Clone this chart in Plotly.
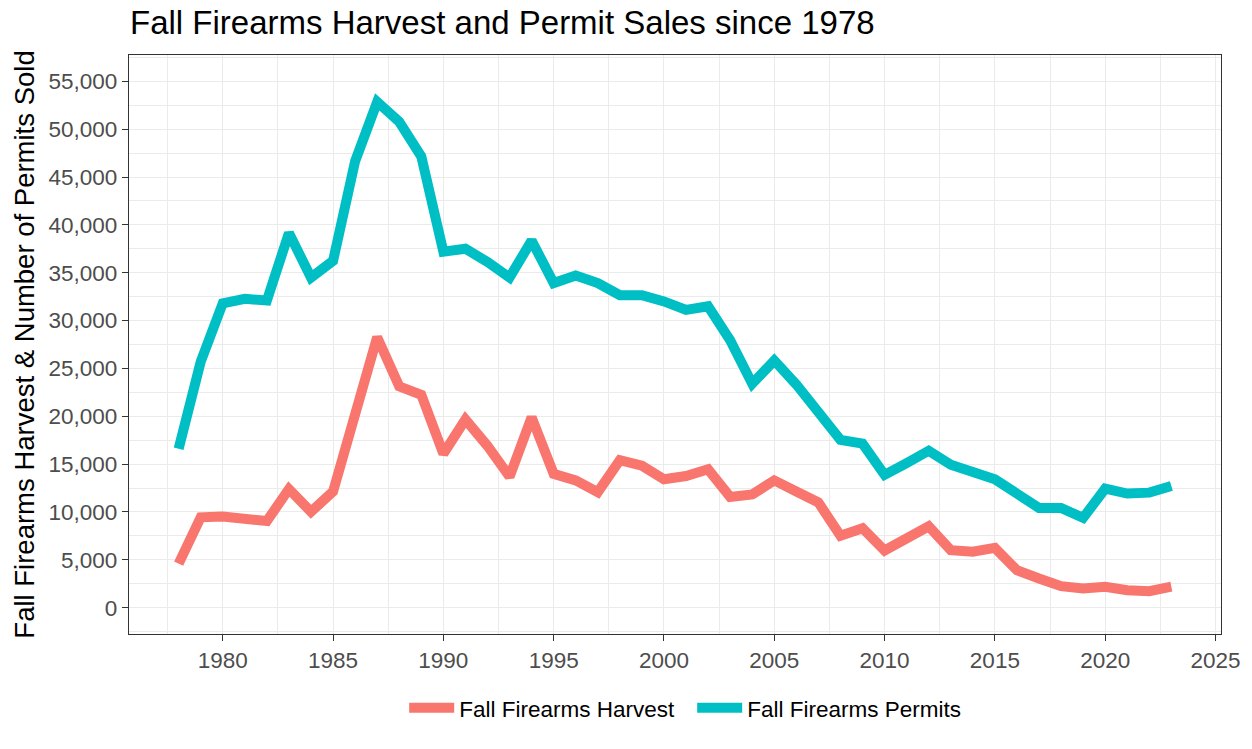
import plotly.graph_objects as go

years = list(range(1978, 2024))

harvest = [4600, 9440, 9520, 9370, 9050, 12400, 10020, 12140, 20700, 28260,
           23130, 22240, 16080, 19660, 16900, 13690, 19900, 13990, 13300, 12070,
           15420, 14840, 13420, 13760, 14460, 11570, 11830, 13300, 12140, 10990,
           7520, 8290, 5980, 7130, 8500, 6010, 5840, 6250, 3920, 3050,
           2250, 2010, 2190, 1830, 1730, 2190]

permits = [16600, 25700, 31800, 32270, 32100, 39150, 34500, 36240, 46650, 52850,
           50770, 47150, 37200, 37510, 36120, 34500, 38350, 33920, 34700, 33920,
           32650, 32650, 32000, 31110, 31500, 27950, 23400, 25830, 23320, 20430,
           17540, 17150, 13880, 15110, 16400, 14940, 14180, 13410, 11920, 10420,
           10420, 9380, 12440, 11920, 12020, 12720]

series_names = ["Fall Firearms Harvest", "Fall Firearms Permits"]
series_colors = ["#F8766D", "#00BFC4"]

x_ticks = [1980, 1985, 1990, 1995, 2000, 2005, 2010, 2015, 2020, 2025]
y_ticks = [0, 5000, 10000, 15000, 20000, 25000, 30000, 35000, 40000, 45000, 50000, 55000]
y_tick_labels = ["0", "5,000", "10,000", "15,000", "20,000", "25,000", "30,000",
                 "35,000", "40,000", "45,000", "50,000", "55,000"]

title_text = "Fall Firearms Harvest and Permit Sales since 1978"
y_title = "Fall Firearms Harvest & Number of Permits Sold"

FONT = "Liberation Sans, Arial, sans-serif"
W, H = 1252, 749

fig = go.Figure()
for name, vals, col in zip(series_names, [harvest, permits], series_colors):
    fig.add_trace(go.Scatter(x=years, y=vals, mode="lines", name=name,
                             line=dict(color=col, width=10)))

grid_col = "#ebebeb"
fig.update_layout(
    width=W, height=H,
    paper_bgcolor="white", plot_bgcolor="white",
    margin=dict(l=129, r=26, t=55, b=115),
    font=dict(family=FONT, color="#4d4d4d", size=22),
    title=dict(text=title_text, x=130/W, xanchor="left", xref="container",
               y=1-11/H, yanchor="top", yref="container", pad=dict(t=0, b=0, l=0, r=0),
               font=dict(family=FONT, size=33, color="black")),
    showlegend=True,
    legend=dict(orientation="h", x=0.252, xanchor="left", y=-0.128, yanchor="middle",
                font=dict(family=FONT, size=22.5, color="black"),
                itemwidth=45, entrywidth=228,
                bgcolor="rgba(0,0,0,0)", traceorder="normal"),
)

fig.update_xaxes(range=[1975.75, 2025.25], tickmode="array", tickvals=x_ticks,
                 ticktext=[str(t) for t in x_ticks],
                 showgrid=True, gridcolor=grid_col, gridwidth=1.3,
                 minor=dict(dtick=2.5, tick0=1977.5, showgrid=True, gridcolor=grid_col, gridwidth=0.6),
                 showline=True, linecolor="#333333", linewidth=1.3, mirror=True,
                 ticks="outside", ticklen=6, tickcolor="#333333", tickwidth=1.3,
                 tickfont=dict(family=FONT, size=22.5, color="#4d4d4d"),
                 zeroline=False)

fig.update_yaxes(range=[-2750, 57750], tickmode="array", tickvals=y_ticks,
                 ticktext=y_tick_labels,
                 showgrid=True, gridcolor=grid_col, gridwidth=1.3,
                 minor=dict(dtick=2500, tick0=0, showgrid=True, gridcolor=grid_col, gridwidth=0.6),
                 showline=True, linecolor="#333333", linewidth=1.3, mirror=True,
                 ticks="outside", ticklen=6, tickcolor="#333333", tickwidth=1.3,
                 tickfont=dict(family=FONT, size=22.5, color="#4d4d4d"),
                 title=dict(text=y_title, standoff=5, font=dict(family=FONT, size=27.5, color="black")),
                 zeroline=False)

fig.write_html("out.html", config={"displayModeBar": False},
               post_script="document.body.style.margin='0';document.body.style.overflow='hidden';")
